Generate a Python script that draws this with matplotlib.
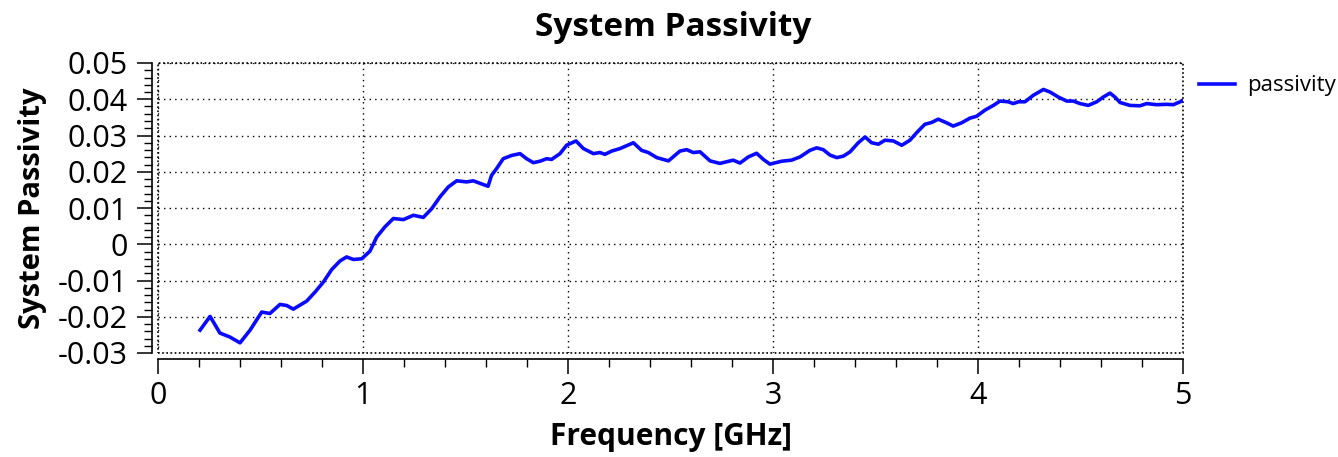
#!/usr/bin/env python3
"""
System passivity vs frequency - recreated chart
"""

import matplotlib
matplotlib.use('Agg')
import matplotlib.pyplot as plt
from matplotlib.ticker import MultipleLocator, FuncFormatter
from matplotlib.patches import Rectangle

# Data
freq_ghz = [0.205, 0.254, 0.302, 0.351, 0.400, 0.449, 0.506, 0.546, 0.595, 0.628,
            0.660, 0.725, 0.766, 0.807, 0.847, 0.888, 0.920, 0.953, 0.994, 1.034,
            1.067, 1.107, 1.148, 1.197, 1.246, 1.294, 1.335, 1.376, 1.416, 1.457,
            1.506, 1.538, 1.595, 1.610, 1.627, 1.652, 1.684, 1.725, 1.766, 1.798,
            1.831, 1.863, 1.896, 1.920, 1.961, 1.993, 2.039, 2.075, 2.124, 2.156,
            2.180, 2.213, 2.254, 2.319, 2.359, 2.392, 2.433, 2.490, 2.546, 2.579,
            2.611, 2.644, 2.693, 2.741, 2.806, 2.839, 2.880, 2.920, 2.953, 2.985,
            3.042, 3.091, 3.132, 3.180, 3.213, 3.245, 3.278, 3.311, 3.343, 3.376,
            3.416, 3.449, 3.481, 3.514, 3.546, 3.587, 3.628, 3.668, 3.701, 3.741,
            3.774, 3.806, 3.847, 3.879, 3.920, 3.961, 3.993, 4.034, 4.075, 4.107,
            4.148, 4.172, 4.197, 4.229, 4.270, 4.319, 4.351, 4.392, 4.433, 4.465,
            4.498, 4.538, 4.579, 4.611, 4.644, 4.668, 4.693, 4.741, 4.790, 4.823,
            4.871, 4.920, 4.953, 4.994]

passivity = [-0.0237, -0.0199, -0.0245, -0.0256, -0.0272, -0.0237, -0.0187, -0.0191, -0.0166, -0.0169,
             -0.0179, -0.0157, -0.0132, -0.0104, -0.0070, -0.0046, -0.0035, -0.0042, -0.0040, -0.0019,
             0.0020, 0.0048, 0.0071, 0.0068, 0.0080, 0.0074, 0.0098, 0.0131, 0.0158, 0.0175,
             0.0172, 0.0175, 0.0163, 0.0160, 0.0190, 0.0209, 0.0236, 0.0245, 0.0250, 0.0236,
             0.0225, 0.0229, 0.0236, 0.0234, 0.0250, 0.0273, 0.0285, 0.0264, 0.0250, 0.0253,
             0.0248, 0.0257, 0.0264, 0.0280, 0.0259, 0.0253, 0.0239, 0.0230, 0.0257, 0.0261,
             0.0253, 0.0255, 0.0230, 0.0223, 0.0232, 0.0224, 0.0241, 0.0251, 0.0234, 0.0221,
             0.0229, 0.0232, 0.0241, 0.0259, 0.0266, 0.0261, 0.0246, 0.0239, 0.0243, 0.0255,
             0.0280, 0.0296, 0.0280, 0.0276, 0.0287, 0.0285, 0.0273, 0.0287, 0.0308, 0.0331,
             0.0336, 0.0345, 0.0335, 0.0326, 0.0335, 0.0348, 0.0353, 0.0370, 0.0383, 0.0395,
             0.0393, 0.0388, 0.0393, 0.0393, 0.0411, 0.0427, 0.0420, 0.0406, 0.0395, 0.0395,
             0.0388, 0.0383, 0.0393, 0.0406, 0.0417, 0.0406, 0.0391, 0.0383, 0.0382, 0.0388,
             0.0385, 0.0386, 0.0385, 0.0395]

x_ticks = [0, 1, 2, 3, 4, 5]
title = 'System Passivity'
x_label = 'Frequency [GHz]'
y_label = 'System Passivity'
series_name = 'passivity'

plt.rcParams['font.family'] = ['Open Sans', 'DejaVu Sans']
plt.rcParams['axes.unicode_minus'] = False

W, H = 1338, 457
fig = plt.figure(figsize=(W / 100, H / 100), dpi=100)
left, right, top, bottom = 158, 1183, 63, 353
ax = fig.add_axes([left / W, 1 - bottom / H, (right - left) / W, (bottom - top) / H])

ax.plot(freq_ghz, passivity, color='#0a0aff', lw=2.6, label=series_name)

ax.set_xlim(0, 5)
ax.set_ylim(-0.03, 0.05)
ax.set_xticks(x_ticks)
ax.xaxis.set_minor_locator(MultipleLocator(0.2))
ax.yaxis.set_major_locator(MultipleLocator(0.01))
ax.yaxis.set_minor_locator(MultipleLocator(0.002))


def fmt(v, pos):
    if abs(v) < 1e-9:
        return '0'
    return f'{round(v, 3):g}'


ax.yaxis.set_major_formatter(FuncFormatter(fmt))

# dotted grid + dotted plot frame, solid offset axes with ticks
ax.grid(True, which='major', color='black', ls=(0, (1, 3)), lw=1)
for s in ['top', 'right']:
    ax.spines[s].set_visible(False)
for s in ['left', 'bottom']:
    ax.spines[s].set_position(('outward', 4))
    ax.spines[s].set_linewidth(1.2)
ax.add_patch(Rectangle((0, 0), 1, 1, transform=ax.transAxes, fill=False,
                       ls=(0, (1, 1.5)), lw=1.2, ec='black', clip_on=False))

ax.tick_params(axis='both', which='major', labelsize=22, color='black', width=1.1)
ax.tick_params(axis='y', which='major', length=11, pad=7)
ax.tick_params(axis='y', which='minor', length=6, width=1)
ax.tick_params(axis='x', which='major', length=11, pad=5)
ax.tick_params(axis='x', which='minor', length=6, width=1)

fig.text(0.503, 1 - 28 / H, title, ha='center', va='center',
         fontsize=24, fontweight='bold')
ax.set_xlabel(x_label, fontsize=21.5, fontweight='bold', va='center')
ax.xaxis.set_label_coords(0.5, (bottom - 437) / (bottom - top))
ax.set_ylabel(y_label, fontsize=21, fontweight='bold', va='center')
ax.yaxis.set_label_coords((33 - left) / (right - left), 0.5)

fig.legend(loc='center left', bbox_to_anchor=(1199 / W, 1 - 86 / H),
           frameon=False, fontsize=16, handlelength=1.6, borderaxespad=0,
           borderpad=0, handletextpad=0.55)

fig.savefig('out.png', dpi=100)
